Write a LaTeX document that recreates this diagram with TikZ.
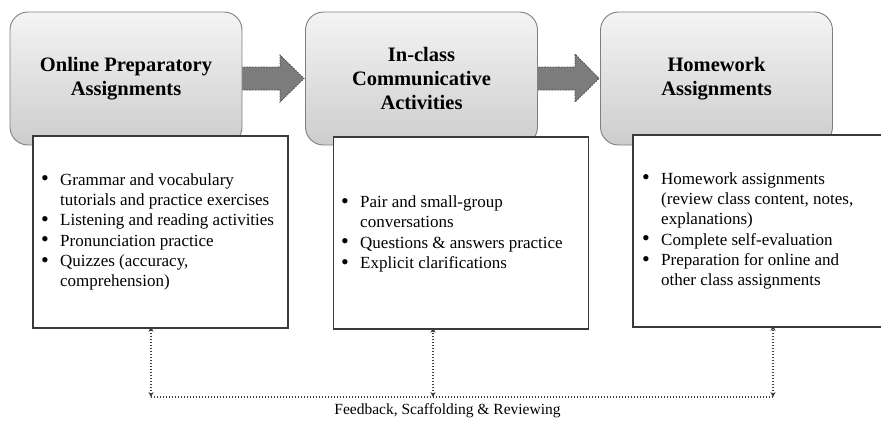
\documentclass[tikz,border=0pt]{standalone}
\usepackage{fontspec}
\setmainfont{Liberation Serif}
\usetikzlibrary{arrows.meta}

\definecolor{boxedge}{HTML}{7F7F7F}
\definecolor{boxtop}{HTML}{F4F4F4}
\definecolor{boxbottom}{HTML}{CDCDCD}
\definecolor{listedge}{HTML}{3A3A3A}
\definecolor{arrowfill}{HTML}{7C7C7C}
\definecolor{arrowedge}{HTML}{4A4A4A}
\definecolor{fbline}{HTML}{3C3C3C}

\tikzset{
  stagebox/.style={draw=boxedge, line width=0.9pt, rounded corners=18pt,
    top color=boxtop, bottom color=boxbottom, inner sep=0pt,
    minimum width=232pt, minimum height=133pt, align=center,
    font=\fontsize{20.5}{24}\selectfont\bfseries},
  listbox/.style={draw=listedge, line width=1.4pt, fill=white, inner sep=0pt,
    minimum width=255pt, minimum height=192pt},
  listtext/.style={anchor=west, inner sep=0pt, align=left,
    font=\fontsize{17}{20.3}\selectfont},
  blockarrow/.style={fill=arrowfill, draw=arrowedge, line width=0.8pt,
    dash pattern=on 1.6pt off 1.2pt},
  fbline/.style={draw=fbline, line width=1.1pt, dash pattern=on 1.4pt off 1.6pt},
  fbarrow/.style={fbline, {Stealth[length=5pt,width=5pt]}-{Stealth[length=5pt,width=5pt]}},
}
% list bullet, a little larger than the text face gives it
\newcommand{\itm}{\makebox[19pt][l]{\smash{\raisebox{-0.6pt}{\scalebox{1.3}{\textbullet}}}}}
\newcommand{\cnt}{\hspace*{19pt}}

\begin{document}
\begin{tikzpicture}[x=1pt, y=-1pt]
  \useasboundingbox (0,0) rectangle (881,421);
  \clip (0,0) rectangle (881,421);

  % block arrows between the stages
  \draw[blockarrow] (238,67) -- (280,67) -- (280,55) -- (304,78.5)
    -- (280,102) -- (280,90) -- (238,90) -- cycle;
  \draw[blockarrow] (533,67) -- (575,67) -- (575,54) -- (599,78.5)
    -- (575,102) -- (575,90) -- (533,90) -- cycle;

  % stage headers
  \node[stagebox] (s1) at (126,78.5) {Online Preparatory\\Assignments};
  \node[stagebox] (s2) at (421.5,78.5) {In-class\\Communicative\\Activities};
  \node[stagebox] (s3) at (716.5,78.5) {Homework\\Assignments};

  % activity lists
  \node[listbox] (w1) at (160.5,232) {};
  \node[listbox] (w2) at (461,233) {};
  \node[listbox] (w3) at (760.5,231) {};

  \node[listtext] (t1) at (41,232) {%
    \itm Grammar and vocabulary\\
    \cnt tutorials and practice exercises\\
    \itm Listening and reading activities\\
    \itm Pronunciation practice\\
    \itm Quizzes (accuracy,\\
    \cnt comprehension)};
  \node[listtext] (t2) at (341,234) {%
    \itm Pair and small-group\\
    \cnt conversations\\
    \itm Questions \& answers practice\\
    \itm Explicit clarifications};
  \node[listtext] (t3) at (642,231) {%
    \itm Homework assignments\\
    \cnt (review class content, notes,\\
    \cnt explanations)\\
    \itm Complete self-evaluation\\
    \itm Preparation for online and\\
    \cnt other class assignments};

  % feedback loop
  \coordinate (f1) at (151,397);
  \coordinate (f2) at (433,397);
  \coordinate (f3) at (773,397);
  \draw[fbline] (f1) -- (f3);
  \draw[fbarrow] (f1) -- ([yshift=2pt]f1 |- w1.south);
  \draw[fbarrow] (f2) -- ([yshift=2pt]f2 |- w2.south);
  \draw[fbarrow] (f3) -- ([yshift=2pt]f3 |- w3.south);
  \node[font=\fontsize{15.5}{18}\selectfont, inner sep=0pt] (fb) at (447.5,411)
    {Feedback, Scaffolding \& Reviewing};
\end{tikzpicture}
\end{document}
